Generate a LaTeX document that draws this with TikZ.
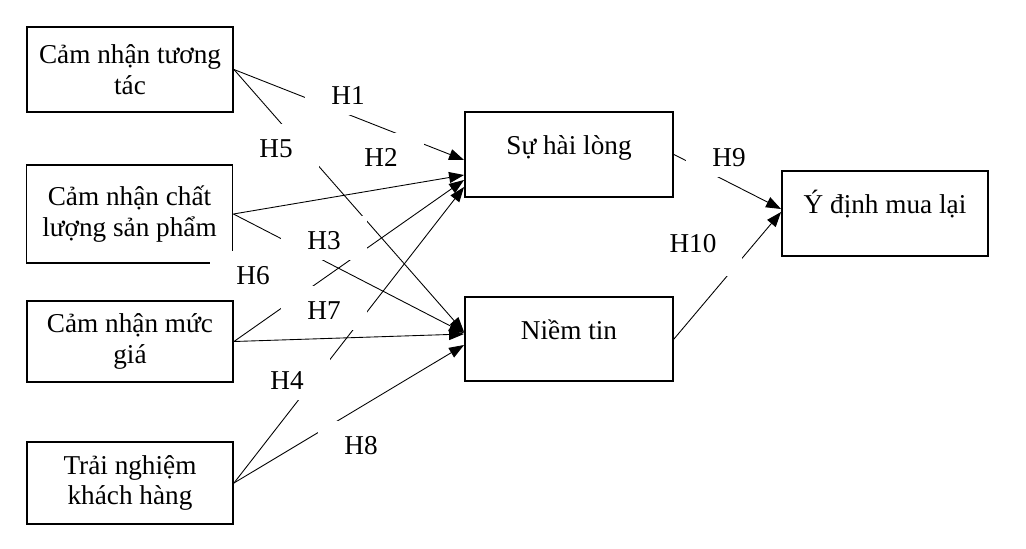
\documentclass[tikz,border=0pt]{standalone}
\usepackage{fontspec}
\setmainfont{Liberation Serif}
\usepackage{xcolor}
\usetikzlibrary{arrows.meta, positioning, calc}

\tikzset{
    factor/.style={draw=black, line width=1.1pt, minimum width=4.12cm, align=center, inner sep=2pt},
    outcome/.style={draw=black, line width=1.1pt, minimum width=4.16cm, minimum height=1.7cm,
                    text height=0.3cm, text depth=0.3cm},
    hyp/.style={fill=white, anchor=base, inner xsep=0.52cm, inner ysep=0.22cm,
                text height=0.44cm, text depth=0cm},
    link/.style={line width=0.5pt, -{Triangle[length=0.3cm, width=0.22cm]}}
}

\begin{document}
\begin{tikzpicture}[x=0.02cm, y=-0.02cm, font=\fontsize{15.5}{17.5}\selectfont]
        \useasboundingbox (0,0) rectangle (1026,548);

        % factors
        \node[factor, minimum height=1.7cm]  (tuongtac)   at (130,69.5)  {Cảm nhận tương\\tác};
        \node[factor, minimum height=1.96cm] (chatluong)  at (129.5,214) {Cảm nhận chất\\lượng sản phẩm};
        \node[factor, minimum height=1.62cm] (mucgia)     at (130,341.5) {Cảm nhận mức\\giá};
        \node[factor, minimum height=1.64cm] (trainghiem) at (130,483)   {Trải nghiệm\\khách hàng};

        % mediators and outcome
        \node[outcome] (hailong) at (569,154.5) {Sự hài lòng};
        \node[outcome, minimum height=1.68cm] (niemtin) at (569,339) {Niềm tin};
        \node[outcome, minimum width=4.12cm] (ydinh) at (885,213.5) {Ý định mua lại};

        % hypotheses
        \draw[link] (tuongtac.east)   -- ([yshift=-0.11cm]hailong.west);
        \draw[link] (tuongtac.east)   -- ([yshift=0.14cm]niemtin.west);
        \draw[link] (chatluong.east)  -- ([yshift=-0.41cm]hailong.west);
        \draw[link] (chatluong.east)  -- ([yshift=0.12cm]niemtin.west);
        \draw[link] (mucgia.east)     -- ([yshift=-0.51cm]hailong.west);
        \draw[link] (mucgia.east)     -- ([yshift=0.1cm]niemtin.west);
        \draw[link] (trainghiem.east) -- ([yshift=-0.65cm]hailong.west);
        \draw[link] (trainghiem.east) -- ([yshift=-0.12cm]niemtin.west);
        \draw[link] (hailong.east)    -- ([yshift=0.09cm]ydinh.west);
        \draw[link] (niemtin.east)    -- ([yshift=0.03cm]ydinh.west);

        \node[hyp] (h1) at (348,104) {H1};
        \node[hyp] (h5) at (276,157) {H5};
        \node[hyp] (h2) at (381,166) {H2};
        \node[hyp] (h3) at (324,249) {H3};
        \node[hyp] (h6) at (253,284) {H6};
        \node[hyp] (h7) at (324,319) {H7};
        \node[hyp] (h4) at (287,389) {H4};
        \node[hyp] (h8) at (361,454) {H8};
        \node[hyp] (h9) at (729,166) {H9};
        \node[hyp, text depth=0.26cm] (h10) at (693,252) {H10};
    \end{tikzpicture}
\end{document}
